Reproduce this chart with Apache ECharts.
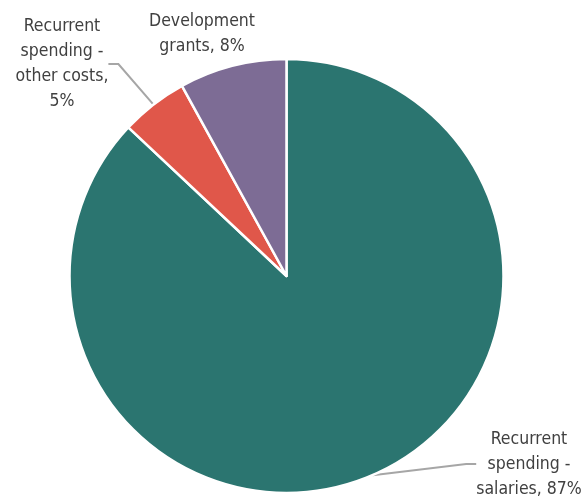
<!DOCTYPE html>
<html>
<head>
<meta charset="utf-8">
<script src="https://cdn.jsdelivr.net/npm/echarts@6/dist/echarts.min.js"></script>
<style>
  html, body { margin: 0; padding: 0; background: #ffffff; }
  #chart { width: 586px; height: 496px; }
</style>
</head>
<body>
<div id="chart"></div>
<script>
// Spending breakdown, clockwise from 12 o'clock
const categories = [
  'Recurrent spending - salaries',
  'Recurrent spending - other costs',
  'Development grants'
];
const shares = [87, 5, 8];
const labelTexts = [
  'Recurrent\nspending -\nsalaries, 87%',
  'Recurrent\nspending -\nother costs,\n5%',
  'Development\ngrants, 8%'
];
const colors = ['#2b7570', '#e0574a', '#7d6c95'];

// label anchor points (centre of each text block)
const labelSpots = [
  { x: 529, y: 464 },
  { x: 62, y: 64 },
  { x: 202, y: 34 }
];

const chart = echarts.init(document.getElementById('chart'), null, { renderer: 'canvas' });

chart.setOption({
  animation: false,
  backgroundColor: '#ffffff',
  series: [{
    type: 'pie',
    center: [286.5, 276],
    radius: [0, 217],
    startAngle: 90,
    clockwise: true,
    avoidLabelOverlap: false,
    itemStyle: { borderColor: '#ffffff', borderWidth: 2.5 },
    label: {
      show: true,
      position: 'outside',
      color: '#404040',
      fontFamily: '"Liberation Sans Narrow", "DejaVu Sans Condensed", sans-serif',
      fontSize: 17.5,
      lineHeight: 25,
      align: 'center',
      formatter: (p) => labelTexts[p.dataIndex]
    },
    labelLine: {
      show: true,
      length: 10,
      length2: 10,
      lineStyle: { color: '#a6a6a6', width: 2 }
    },
    labelLayout: (p) => ({
      x: labelSpots[p.dataIndex].x,
      y: labelSpots[p.dataIndex].y,
      align: 'center',
      verticalAlign: 'middle'
    }),
    emphasis: { disabled: true },
    data: categories.map((name, i) => ({
      name: name,
      value: shares[i],
      itemStyle: { color: colors[i] },
      labelLine: { show: i !== 2 }
    }))
  }]
});
</script>
</body>
</html>
